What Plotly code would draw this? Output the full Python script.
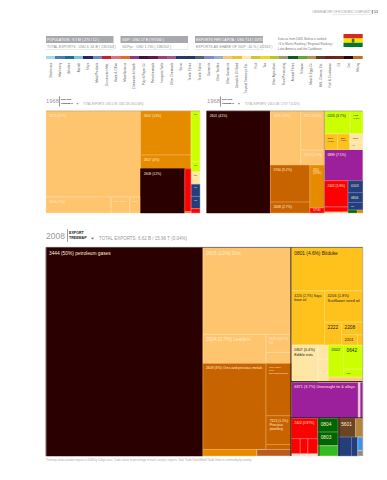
import plotly.graph_objects as go

W, H = 387, 480
NARROW = "Liberation Sans Narrow, Liberation Sans, Arial Narrow, sans-serif"

# ---------- category strip ----------
communities = ["Electronics", "Machinery", "Vehicles", "Aircraft", "Ships", "Metal Products", "Construction Mat.",
               "Home & Office", "Miscellaneous", "Chemicals & Health", "Pulp & Paper Co", "Petrochemicals",
               "Inorganic Salts", "Other Chemicals", "Stone", "Textile Fibres", "Textile Fabric",
               "Garments", "Other Textiles", "Other Garments", "Cereals & Oil Seed",
               "Tropical Treecrops Etc.", "Fruit", "Tea", "Other Agriculture", "Food Processing",
               "Animal Fibres", "Tobacco", "Meat & Eggs Co", "Milk, Cheese, Etc.", "Fish & Crustacean",
               "Oil", "Ore", "Mining"]
community_share = [1] * 34
community_colors = ["#A3D9E8", "#4A7FB5", "#1B6E96", "#7CC4D8", "#24246E", "#7088C0", "#C8202F", "#E07080", "#E07020",
                    "#8A3A90", "#3A1540", "#601848", "#A04070", "#A05890", "#243A70", "#223A60", "#556070", "#8888C8",
                    "#90B0D0", "#F8C870", "#F0C030", "#FBE8B0", "#C8C838", "#E8D820", "#B8C820", "#A09878", "#0A5A2A",
                    "#60A830", "#B89050", "#604020", "#702020", "#702810", "#2A0808", "#C07020"]

PALE, ORANGE, BROWN, MAROON = "#FFC56E", "#E68A00", "#C86400", "#2B0000"
LIME, GOLD, CREAM, PURPLE = "#CCFF00", "#FFC21C", "#FFE6A5", "#9C1F9C"
RED, NAVY, GREEN, BGREEN = "#FF0000", "#233E7A", "#006600", "#33BB22"
CHOC, TAN, BLUE, GRAY, DUST = "#6B4423", "#B5853F", "#3399EE", "#8A8A8A", "#B85C20"

# ---------- 1968 (left) ----------
l_ids = ["root", "A", "B", "D", "A1", "A2", "a1", "a2", "a3", "B1", "B2", "B3", "C", "Rg", "r1", "r2",
         "d1", "d2", "d3", "d4", "d5", "d6"]
l_parents = ["", "root", "root", "root", "A", "A", "A2", "A2", "A2", "B", "B", "B", "B3", "B3", "Rg", "Rg",
             "D", "D", "D", "D", "D", "D"]
l_values = [0, 0, 0, 0, 51.8, 0, 6.6, 1.9, 1.1, 14.1, 4.4, 0, 12.4, 0, 1.7, 0.05, 2.9, 0.6, 0.7, 0.7, 0.7, 0.25]
l_colors = [PALE, PALE, ORANGE, LIME, PALE, PALE, PALE, PALE, PALE, ORANGE, ORANGE, MAROON, MAROON, RED, RED, DUST,
            LIME, LIME, CREAM, NAVY, NAVY, RED]
l_text = ["", "", "", "", "2614 (52%)", "", "2606 (7%)", "2609 (2.2%)", "2603", "2601 (14%)", "2607 (4%)", "",
          "2608 (12%)", "", "", "", "0270", "0502", "0207", "0303", "0305", ""]

# ---------- 1968 (right) ----------
r_ids = ["root", "M", "P", "S", "Pu", "Pl", "p1", "Pu2", "p2", "p3", "Bro", "Ora", "b1", "b2", "o1", "o2",
         "Li", "Go", "Pur", "Low", "l1", "l2", "g1", "g2", "Cr", "c1", "c2", "Rd", "Nv", "rd1", "rd2", "rd3",
         "n1", "n2", "n3", "Bs", "s1", "s2"]
r_parents = ["", "root", "root", "root", "P", "P", "Pu", "Pu", "Pu2", "Pu2", "Pl", "Pl", "Bro", "Bro", "Ora", "Ora",
             "S", "S", "S", "S", "Li", "Li", "Go", "Go", "Go", "Cr", "Cr", "Low", "Low", "Rd", "Rd", "Rd",
             "Nv", "Nv", "Nv", "Nv", "Bs", "Bs"]
r_values = [0, 40.8, 0, 0, 0, 0, 10.3, 0, 5.8, 2.2, 0, 0, 9.2, 2.7, 3.9, 0.46,
            0, 0, 7.5, 0, 3.7, 1.8, 1.3, 1.2, 0, 0.7, 0.56, 0, 0, 3.9, 0.75, 0.15,
            1.1, 0.9, 0.7, 0, 0.17, 0.1]
r_colors = [PALE, MAROON, PALE, LIME, PALE, BROWN, PALE, PALE, PALE, PALE, BROWN, ORANGE, BROWN, BROWN, ORANGE, RED,
            LIME, GOLD, PURPLE, RED, LIME, LIME, GOLD, GOLD, CREAM, CREAM, CREAM, RED, NAVY, RED, RED, PALE,
            NAVY, NAVY, NAVY, GREEN, GREEN, ORANGE]
r_text = ["", "2601 (41%)", "", "", "", "", "2609 (10%)", "", "2615 (5.8%)", "2609 (2.2%)", "", "", "5700 (9.2%)",
          "2608 (2.7%)", "2611<br>(3.9%)", "5700", "", "", "6889 (7.5%)", "", "0205 (3.7%)", "0902<br>(1.8%)",
          "3303<br>(1.3%)", "2520<br>(1.2%)", "", "0207", "2909", "", "", "2402 (3.9%)", "", "",
          "0103", "0804", "0801", "", "", ""]

# ---------- 2008 ----------
t_ids = ["root", "M", "P", "R", "Pt", "Pr", "Br", "Bt", "pr1", "Pr2", "pr2", "pr3", "br1", "Br2", "br2", "br3", "br4",
         "bt1", "bt2", "G1", "GL", "Ro", "Pu", "Lo", "g2", "GR", "g3", "GR2", "g4", "GR3", "g5", "GR4", "g6", "g7",
         "c1", "Cs", "Lm", "cs1", "cs2", "cs3", "LT", "pe", "l1", "LR", "l2", "l3", "pu1", "pu2", "pu3",
         "Rd", "Gr", "Rr", "rd1", "RM", "rd5", "rd2", "rd3", "rd4", "gr1", "gr2", "gr3", "RT", "RB", "ch", "tn",
         "nv1", "nv2", "Bs", "bl", "gy"]
t_parents = ["", "root", "root", "root", "P", "P", "P", "P", "Pr", "Pr", "Pr2", "Pr2", "Br", "Br", "Br2", "Br2", "Br2",
             "Bt", "Bt", "R", "R", "R", "R", "R", "GL", "GL", "GR", "GR", "GR2", "GR2", "GR3", "GR3", "GR4", "GR4",
             "Ro", "Ro", "Ro", "Cs", "Cs", "Cs", "Lm", "Lm", "LT", "LT", "LR", "LR", "Pu", "Pu", "Pu",
             "Lo", "Lo", "Lo", "Rd", "Rd", "Rd", "RM", "RM", "RM", "Gr", "Gr", "Gr", "Rr", "Rr", "RT", "RT",
             "RB", "RB", "RB", "Bs", "Bs"]
t_values = [0, 49.4, 0, 0, 11.6, 0, 0, 0, 2.76, 0, 0.69, 0.42, 8.2, 0, 2.0, 1.1, 0.19,
            0.53, 0.34, 4.68, 0, 0, 0, 0, 2.72, 0, 1.8, 0, 0.58, 0, 0.4, 0, 0.25, 0.08,
            1.5, 0, 0, 0.22, 0.22, 0.14, 0, 0.26, 0.73, 0, 0.7, 0.23, 3.68, 0.11, 0.13,
            0, 0, 0, 0.8, 0, 0.1, 0.2, 0.17, 0.22, 0.42, 0.42, 0.32, 0, 0, 0.49, 0.2,
            0.38, 0.18, 0, 0.1, 0.04]
t_colors = [PALE, MAROON, PALE, GOLD, PALE, PALE, BROWN, ORANGE, PALE, PALE, PALE, PALE, BROWN, BROWN, BROWN, BROWN, BROWN,
            ORANGE, DUST, GOLD, GOLD, CREAM, PURPLE, RED, GOLD, GOLD, GOLD, GOLD, GOLD, GOLD, GOLD, GOLD, GOLD, GOLD,
            CREAM, CREAM, LIME, CREAM, CREAM, CREAM, LIME, "#FFC98A", LIME, LIME, LIME, LIME, PURPLE, "#F5D0F0", PURPLE,
            RED, GREEN, CHOC, RED, RED, "#FFE0E0", RED, RED, RED, GREEN, GREEN, BGREEN, CHOC, NAVY, CHOC, TAN,
            NAVY, NAVY, BLUE, BLUE, GRAY]
t_text = ["", "3444 (50%) petroleum gases", "", "", "2605 (12%) Zinc", "", "", "", "2604 (2.7%) Leaders", "",
          "7615 (0.67%)<br>Tin", "", "2608 (8%) Ores and precious metals", "", "7110 (2.2%)<br>Gold,<br>semi-manufactures",
          "7113 (1.1%)<br>Precious<br>jewellery", "", "", "", "0801 (4.6%) Bitduke", "", "", "", "",
          "4220 (2.7%) Soya<br>bean oil", "", "4206 (1.8%)<br>Sunflower seed oil", "", "2222", "", "2208", "", "2201", "",
          "0807 (0.4%)<br>Edible nuts", "", "", "", "", "", "", "", "0502", "", "0642", "0808",
          "6871 (3.7%) Unwrought tin &amp; alloys", "", "",
          "", "", "", "2402 (0.87%)", "", "", "", "", "", "0804", "0803", "", "", "", "5601", "", "", "", "", "", ""]

# text colours: dark text on the light/yellow cells
DARK_ON = {LIME, GOLD, CREAM}


def treemap(ids, parents, values, colors, texts, box, size, line_color):
    has_child = set(parents)
    x0, y0, x1, y1 = box
    line_cols = [line_color.get(c, "#FFE3B5") for c in colors]
    line_widths = [0.5 if i not in has_child else 0 for i in ids]
    txt_cols = ["#222222" if c in DARK_ON else "#FFEBD2" for c in colors]
    return go.Treemap(
        ids=ids, labels=ids, parents=parents, values=values,
        branchvalues="remainder", sort=False, text=texts, textinfo="text",
        textposition="top left", hoverinfo="skip",
        domain=dict(x=[x0 / W, x1 / W], y=[1 - y1 / H, 1 - y0 / H]),
        tiling=dict(packing="slice-dice", pad=0),
        pathbar=dict(visible=False),
        marker=dict(colors=colors, line=dict(color=line_cols, width=line_widths),
                    pad=dict(t=0, l=0, r=0, b=0)),
        textfont=dict(family=NARROW, size=size, color=txt_cols),
    )


line_map = {MAROON: MAROON, PALE: "#FFE3B5", ORANGE: "#F4BC6A", BROWN: "#F0A860", RED: "#FF9090",
            NAVY: "#7E93C2", GREEN: "#7FB87F", LIME: "#E8FF80", GOLD: "#FFE48A", CREAM: "#FFF4D8",
            PURPLE: "#D090D0", CHOC: "#9A7A5A"}

fig = go.Figure()
fig.add_trace(treemap(l_ids, l_parents, l_values, l_colors, l_text, (46, 111, 200, 213), 3.4, line_map))
fig.add_trace(treemap(r_ids, r_parents, r_values, r_colors, r_text, (206.7, 111, 362.7, 213), 3.4, line_map))
fig.add_trace(treemap(t_ids, t_parents, t_values, t_colors, t_text, (46, 247.5, 362.7, 456), 4.8, line_map))

fig.add_trace(go.Bar(x=communities, y=community_share, marker=dict(color=community_colors, line_width=0),
                     width=1, hoverinfo="skip", showlegend=False, xaxis="x", yaxis="y"))


def px_(x):
    return x / W


def py_(y):
    return 1 - y / H


def note(x, y, s, size=4, color="#777777", anchor="left", family=NARROW):
    fig.add_annotation(x=px_(x), y=py_(y), xref="paper", yref="paper", text=s, showarrow=False,
                       xanchor=anchor, yanchor="middle", align=anchor, borderpad=0, borderwidth=0,
                       font=dict(size=size, color=color, family=family))


def box(x0, y0, x1, y1, fill, line=None, width=0):
    fig.add_shape(type="rect", xref="paper", yref="paper", x0=px_(x0), x1=px_(x1), y0=py_(y0), y1=py_(y1),
                  fillcolor=fill, line=dict(color=line or fill, width=width), layer="above")


def rule(x0, y0, x1, y1, color, width=0.6):
    fig.add_shape(type="line", xref="paper", yref="paper", x0=px_(x0), x1=px_(x1), y0=py_(y0), y1=py_(y1),
                  line=dict(color=color, width=width), layer="above")


# header boxes
head_top = ["POPULATION : 9.7 M ( 275 / 12 )", "GDP : USD 17 B ( 97/160 )", "EXPORTS PER CAPITA : USD 714 ( 107/197 )"]
head_low = ["TOTAL EXPORTS : USD 6 .61 B ( 135/163 )", "GDPpc : USD 1,720 ( 138/202 )",
            "EXPORTS AS SHARE OF GDP : 40 % ( 42/163 )"]
head_x = [(46, 113.5), (120.5, 188), (195, 263)]
for (a, b), t1, t2 in zip(head_x, head_top, head_low):
    box(a, 36, b, 43, "#A7A9AC")
    note(a + 1, 39.6, t1, 3.5, "#FFFFFF")
    note(a + 1, 46.6, t2, 3.5, "#8C8C8C")
    rule(a, 49.5, b, 49.5, "#D8D8D8", 0.6)
    rule(b, 43, b, 49.5, "#E4E4E4", 0.6)

note(278, 39.3, "Data as from 2008. Bolivia is ranked", 3, "#777777")
note(278, 44, "#4 in Matrix Ranking / Regional Ranking /", 3, "#777777")
note(278, 48.5, "Latin America and the Caribbean", 3, "#777777")

# flag
box(343.5, 34, 362.7, 38.5, "#D52B1E")
box(343.5, 38.5, 362.7, 42.8, "#F9E300")
box(343.5, 42.8, 362.7, 47, "#007934")
box(351.8, 38.6, 354.4, 42.6, "#5A6A20")

# top right
note(372, 11.8, "OBSERVATORY OF ECONOMIC COMPLEXITY", 2.8, "#9A9A9A", "right")
rule(332, 14.6, 372, 14.6, "#D5D5D5", 0.5)
rule(372.6, 10, 372.6, 14, "#555555", 0.6)
note(374, 11.8, "53", 3.4, "#333333")


def year_head(x, y, year, ysize, lblx, lblsize, arrowx, tx, txt, txtsize, ln, dy):
    note(x, y, year, ysize, "#9A9A9A")
    rule(lblx - 1.5, y - dy * 1.7, lblx - 1.5, y + dy * 1.7, "#555555", 0.6)
    note(lblx, y - dy * 0.65, "<b>EXPORT</b>", lblsize, "#222222")
    note(lblx, y + dy * 0.65, "<b>TREEMAP</b>", lblsize, "#222222")
    fig.add_shape(type="path", xref="paper", yref="paper", layer="above",
                  path=f"M {px_(arrowx - ln)} {py_(y + dy * 0.6)} L {px_(arrowx + ln)} {py_(y + dy * 0.6)} "
                       f"L {px_(arrowx)} {py_(y + dy * 0.6 + ln)} Z",
                  fillcolor="#777777", line_width=0)
    note(tx, y + dy * 0.7, txt, txtsize, "#9A9A9A")


year_head(46, 101.5, "1968", 5.8, 61, 2.5, 77.5, 83, "TOTAL EXPORTS: USD 0.7B / USD 239.1B (0.30%)", 2.6, 1.2, 3)
year_head(207, 101.5, "1968", 5.8, 222, 2.5, 239, 245, "TOTAL EXPORTS: USD 0.3B / 27.97 T (0.02%)", 2.6, 1.2, 3)
year_head(46, 235.5, "2008", 8.5, 69, 3.6, 92.5, 99, "TOTAL EXPORTS: 6.62 B / 15.96 T (0.04%)", 4.5, 1.8, 3.7)

# separators of the 2008 sector blocks
rule(46, 247.4, 362.7, 247.4, "#555555", 0.8)
rule(46, 247.4, 46, 456, "#999999", 0.8)
rule(290.9, 247.4, 290.9, 456, "#111111", 0.9)
rule(291, 381.6, 362.7, 381.6, "#111111", 0.9)
rule(291, 417.8, 362.7, 417.8, "#222222", 0.9)
rule(319, 417.8, 319, 456, "#333333", 0.9)
rule(339, 417.8, 339, 456, "#222222", 0.9)
rule(362.7, 247.4, 362.7, 456, "#999999", 0.6)
# separators of the 1968 right chart
rule(324.3, 111, 324.3, 213, "#777777", 0.6)
rule(206.7, 111, 362.7, 111, "#777777", 0.5)
rule(46, 111, 200, 111, "#AA8844", 0.5)

note(46, 459.5, "Treemap shows product exports in 2008 by 4-digit class. Trade values in percentage of each country's "
     "exports. Total Trade Value/World Trade Value in commodity by country.", 2.7, "#A8A8A8")

fig.update_layout(
    width=W, height=H, margin=dict(l=0, r=0, t=0, b=0), paper_bgcolor="white", plot_bgcolor="white",
    showlegend=False, bargap=0,
    xaxis=dict(domain=[46 / W, 362.7 / W], anchor="y", type="category", categoryorder="array",
               categoryarray=communities, tickangle=-90, ticks="", showline=False, showgrid=False, zeroline=False,
               tickfont=dict(size=3, color="#666666", family=NARROW), ticklabelstandoff=2, automargin=False,
               fixedrange=True, tickmode="array", tickvals=communities, ticktext=communities),
    yaxis=dict(domain=[1 - 59.2 / H, 1 - 56 / H], anchor="x", range=[0, 1], visible=False, fixedrange=True),
)

fig.write_html("out.html", config={"displayModeBar": False},
               post_script="document.body.style.margin='0';document.documentElement.style.overflow='hidden';")
